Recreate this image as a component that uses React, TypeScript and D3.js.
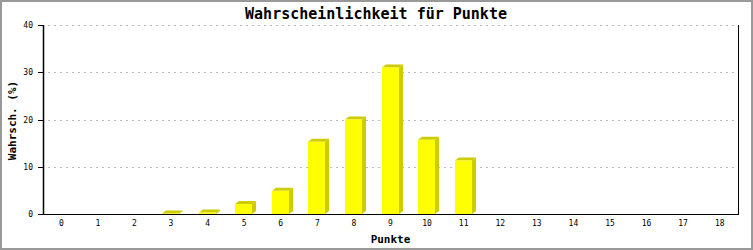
import React from "react";
import * as d3 from "d3";

const categories: string[] = ["0","1","2","3","4","5","6","7","8","9","10","11","12","13","14","15","16","17","18"];
const values: number[] = [0, 0, 0, 0.1, 0.3, 2.1, 4.9, 15.3, 20.0, 31.0, 15.7, 11.3, 0, 0, 0, 0, 0, 0, 0];
const yTicks: number[] = [0, 10, 20, 30, 40];
const title = "Wahrscheinlichkeit für Punkte";
const xTitle = "Punkte";
const yTitle = "Wahrsch. (%)";

const W = 753, H = 250;
const left = 43, right = 738, top = 25, bottom = 214;
const mono = "'DejaVu Sans Mono', monospace";

export default function App() {
  const x = d3.scaleBand<string>().domain(categories).range([left, right]);
  const y = d3.scaleLinear().domain([0, 40]).range([bottom, top]);
  const dx = 4, dy = 3, bw = 17;
  return (
    <svg width={W} height={H} style={{ position: "absolute", left: 0, top: 0 }}>
      <rect x={0} y={0} width={W} height={H} fill="#fff" />
      <rect x={1} y={1} width={W - 2} height={H - 2} fill="none" stroke="#999" strokeWidth={2} />
      <text x={376} y={19} textAnchor="middle" fontFamily={mono} fontSize={15} fontWeight="bold" fill="#000">{title}</text>
      {yTicks.filter(t => t > 0).map(t => (
        <line key={"g" + t} x1={left + 5} x2={right} y1={Math.round(y(t)) + 0.5} y2={Math.round(y(t)) + 0.5}
          stroke="#bbb" strokeDasharray="2,4" />
      ))}
      {values.map((v, i) => {
        if (v <= 0) return null;
        const cx = x(categories[i])! + x.bandwidth() / 2;
        const x0 = Math.round(cx - 9);
        const yt = y(v);
        const x1 = x0 + bw;
        const side = `${x1},${yt} ${x1 + dx},${yt - dy} ${x1 + dx},${bottom - dy} ${x1},${bottom}`;
        const topFace = `${x0},${yt} ${x0 + dx},${yt - dy} ${x1 + dx},${yt - dy} ${x1},${yt}`;
        return (
          <g key={"b" + i}>
            <polygon points={side} fill="#cccc00" />
            <polygon points={topFace} fill="#cccc00" />
            <rect x={x0} y={yt} width={bw} height={bottom - yt} fill="#ffff00" />
          </g>
        );
      })}
      <line x1={left + 0.5} x2={left + 0.5} y1={top} y2={bottom} stroke="#000" strokeWidth={1.5} />
      <line x1={right + 0.5} x2={right + 0.5} y1={top} y2={bottom + 0.5} stroke="#000" />
      <line x1={left} x2={right + 1} y1={bottom + 0.5} y2={bottom + 0.5} stroke="#000" />
      {yTicks.map(t => (
        <g key={"t" + t}>
          <line x1={left - 5} x2={left} y1={Math.round(y(t)) + 0.5} y2={Math.round(y(t)) + 0.5} stroke="#000" />
          <text x={left - 10} y={y(t) + 3} textAnchor="end" fontFamily={mono} fontSize={8} fill="#000">{t}</text>
        </g>
      ))}
      {categories.map(c => (
        <text key={"x" + c} x={x(c)! + x.bandwidth() / 2} y={226} textAnchor="middle" fontFamily={mono} fontSize={8} fill="#000">{c}</text>
      ))}
      <text x={(left + right) / 2} y={243} textAnchor="middle" fontFamily={mono} fontSize={11} fontWeight="bold" fill="#000">{xTitle}</text>
      <text transform={`translate(16,${(top + bottom) / 2 + 1}) rotate(-90)`} textAnchor="middle" fontFamily={mono} fontSize={11} fontWeight="bold" fill="#000">{yTitle}</text>
    </svg>
  );
}
